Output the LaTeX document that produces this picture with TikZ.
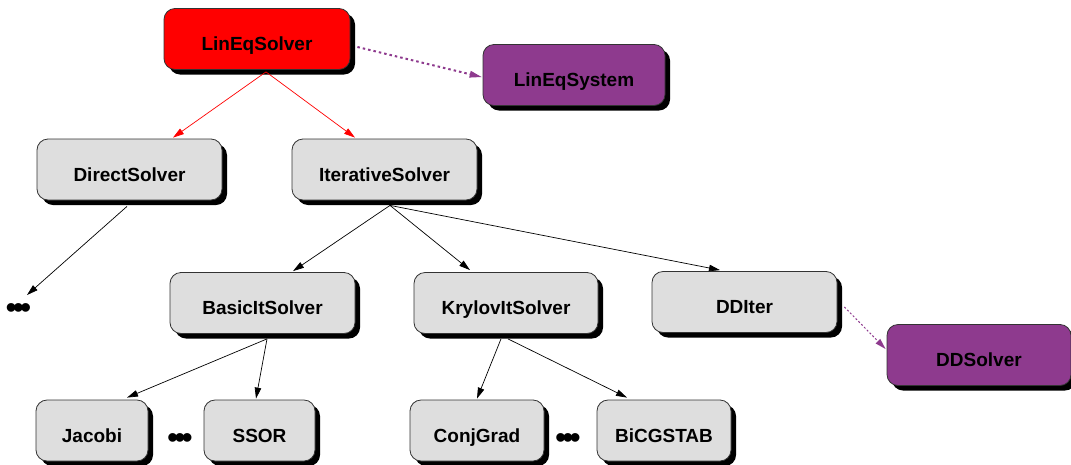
\documentclass[tikz,border=0pt]{standalone}
\usepackage{fontspec}
\setmainfont{Liberation Sans}
\usetikzlibrary{arrows.meta,shadows}
\definecolor{boxgray}{HTML}{DEDEDE}
\definecolor{fpurple}{HTML}{8E3A8E}
\definecolor{fred}{HTML}{FF0000}
\newcommand{\threedots}{•\kern-3.9pt•\kern-3.9pt•}
\tikzset{
  cls/.style={draw=black!80, line width=0.8pt, rounded corners=11pt, fill=boxgray,
    minimum height=61pt, inner sep=0pt, text height=24pt, text depth=0.4pt,
    font=\fontsize{19pt}{19pt}\selectfont\bfseries,
    drop shadow={shadow xshift=5pt, shadow yshift=-5pt, fill=black, opacity=1}},
  redbox/.style={cls, fill=fred},
  purplebox/.style={cls, fill=fpurple},
  inh/.style={draw=black, line width=0.7pt, -{Triangle[length=11pt,width=6.5pt]}},
  redinh/.style={draw=fred, line width=0.7pt, -{Triangle[length=11pt,width=6.5pt]}},
  uses/.style={draw=fpurple, line width=2pt, dash pattern=on 2.5pt off 3pt,
    -{Triangle[length=12pt,width=7pt,line width=0pt]}},
  usesthin/.style={draw=fpurple, line width=1pt, dash pattern=on 2pt off 2pt,
    -{Triangle[length=11pt,width=6.5pt,line width=0pt]}},
  dotsnode/.style={inner sep=0pt, font=\fontsize{32pt}{32pt}\selectfont}
}
\begin{document}
\begin{tikzpicture}[x=1pt,y=-1pt]
\useasboundingbox (0,0) rectangle (1071,464);
% nodes
\node[redbox, minimum width=186pt] (lin) at (257,39) {LinEqSolver};
\node[purplebox, minimum width=182pt] (sys) at (574,75) {LinEqSystem};
\node[cls, minimum width=185pt] (direct) at (129.5,169.5) {DirectSolver};
\node[cls, minimum width=185pt] (iter) at (384.5,169.5) {IterativeSolver};
\node[cls, minimum width=185pt] (basic) at (262.5,303) {BasicItSolver};
\node[cls, minimum width=184pt] (krylov) at (506,303) {KrylovItSolver};
\node[cls, minimum width=185pt] (ddit) at (744.5,302) {DDIter};
\node[purplebox, minimum width=184pt] (dds) at (979,355) {DDSolver};
\node[cls, minimum width=112pt] (jacobi) at (92,430.5) {Jacobi};
\node[cls, minimum width=111pt] (ssor) at (259.5,430.5) {SSOR};
\node[cls, minimum width=134pt] (conj) at (477,430.5) {ConjGrad};
\node[cls, minimum width=134pt] (bicg) at (664,430.5) {BiCGSTAB};
\node[dotsnode] (dots1) at (18.5,311) {\threedots};
\node[dotsnode] (dots2) at (180,441) {\threedots};
\node[dotsnode] (dots3) at (568,441) {\threedots};
% connectors
\draw[redinh] ([xshift=9pt,yshift=-2pt]lin.south) -- ([xshift=43.5pt,yshift=1pt]direct.north);
\draw[redinh] ([xshift=9pt,yshift=-2pt]lin.south) -- ([xshift=-29.5pt,yshift=1pt]iter.north);
\draw[uses] ([xshift=7pt,yshift=-8pt]lin.east) -- ([xshift=-1pt,yshift=-2pt]sys.west);
\draw[inh] ([xshift=-2.5pt,yshift=-6pt]direct.south) -- ([xshift=8.5pt,yshift=16pt]dots1.center);
\draw[inh] ([xshift=5.5pt,yshift=-5pt]iter.south) -- ([xshift=30.5pt,yshift=1pt]basic.north);
\draw[inh] ([xshift=5.5pt,yshift=-5pt]iter.south) -- ([xshift=-36pt,yshift=2pt]krylov.north);
\draw[inh] ([xshift=5.5pt,yshift=-5pt]iter.south) -- ([xshift=-24.5pt,yshift=1pt]ddit.north);
\draw[inh] ([xshift=4.5pt,yshift=-5pt]basic.south) -- ([xshift=35pt,yshift=2pt]jacobi.north);
\draw[inh] ([xshift=4.5pt,yshift=-5pt]basic.south) -- ([xshift=-3.5pt,yshift=1pt]ssor.north);
\draw[inh] ([xshift=-5pt,yshift=-5pt]krylov.south) -- ([yshift=1pt]conj.north);
\draw[inh] ([xshift=2pt,yshift=-5pt]krylov.south) -- ([xshift=-37pt,yshift=2pt]bicg.north);
\draw[usesthin] ([xshift=7pt,yshift=-5pt]ddit.east) -- ([xshift=-1pt,yshift=6pt]dds.west);
\end{tikzpicture}
\end{document}
